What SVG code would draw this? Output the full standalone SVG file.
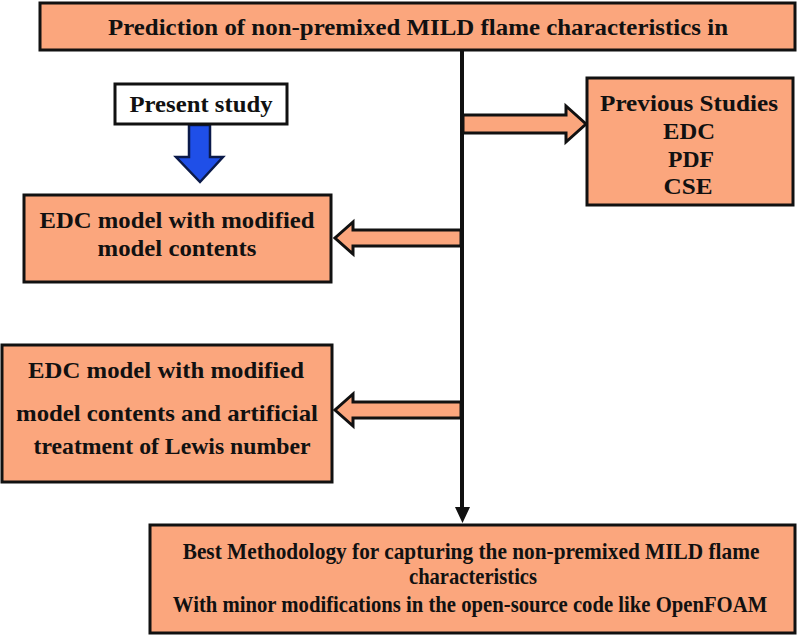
<svg xmlns="http://www.w3.org/2000/svg" width="798" height="640" viewBox="0 0 798 640">
<style>
.box{fill:#FBA67D;stroke:#111;stroke-width:3}
.wbox{fill:#fff;stroke:#111;stroke-width:3}
.t{font-family:'Liberation Serif','Times New Roman','DejaVu Serif',serif;font-weight:700;fill:#111;text-anchor:middle;font-size:23px}
.arr{fill:#FBA67D;stroke:#111;stroke-width:3;stroke-linejoin:miter}
</style>
<g id="connectors">
<line x1="462" y1="50" x2="462" y2="508" stroke="#111" stroke-width="4"/>
<path d="M455,507 L470,507 L462.5,523 z" fill="#111"/>
<path class="arr" d="M463,115 L566,115 L566,106 L586,124 L566,142 L566,133 L463,133 z"/>
<path class="arr" d="M461,230 L353,230 L353,222 L335,238 L353,254 L353,246 L461,246 z"/>
<path class="arr" d="M461,402 L353,402 L353,394 L335,410 L353,426 L353,418 L461,418 z"/>
<path d="M189,125 L210,125 L210,157 L223,157 L200,182 L176,157 L189,157 z" fill="#1F4FE8" stroke="#0b1a4a" stroke-width="2.5"/>
</g>
<g id="title">
<rect class="box" x="40" y="3" width="755" height="47"/>
<text class="t" x="418" y="35" textLength="620" lengthAdjust="spacingAndGlyphs">Prediction of non-premixed MILD flame characteristics in</text>
</g>
<g id="present">
<rect class="wbox" x="115" y="84" width="172" height="40"/>
<text class="t" x="201" y="112" textLength="143" lengthAdjust="spacingAndGlyphs">Present study</text>
</g>
<g id="previous">
<rect class="box" x="587" y="78" width="206" height="127"/>
<text class="t" x="689" y="111" textLength="178" lengthAdjust="spacingAndGlyphs">Previous Studies</text>
<text class="t" x="689" y="139" textLength="52" lengthAdjust="spacingAndGlyphs">EDC</text>
<text class="t" x="691" y="167" textLength="46" lengthAdjust="spacingAndGlyphs">PDF</text>
<text class="t" x="688" y="194" textLength="49" lengthAdjust="spacingAndGlyphs">CSE</text>
</g>
<g id="edc1">
<rect class="box" x="24" y="195" width="307" height="87"/>
<text class="t" x="177" y="228" textLength="275" lengthAdjust="spacingAndGlyphs">EDC model with modified</text>
<text class="t" x="177" y="256" textLength="159" lengthAdjust="spacingAndGlyphs">model contents</text>
</g>
<g id="edc2">
<rect class="box" x="2" y="345" width="330" height="137"/>
<text class="t" x="166" y="378" textLength="276" lengthAdjust="spacingAndGlyphs">EDC model with modified</text>
<text class="t" x="167" y="421" textLength="302" lengthAdjust="spacingAndGlyphs">model contents and artificial</text>
<text class="t" x="172" y="454" textLength="277" lengthAdjust="spacingAndGlyphs">treatment of Lewis number</text>
</g>
<g id="best">
<rect class="box" x="150" y="525" width="645" height="108"/>
<text class="t" transform="translate(471,559) scale(0.72,1)" x="0" y="0" textLength="801" lengthAdjust="spacingAndGlyphs">Best Methodology for capturing the non-premixed MILD flame</text>
<text class="t" x="473" y="584" textLength="128" lengthAdjust="spacingAndGlyphs">characteristics</text>
<text class="t" transform="translate(470,612) scale(0.7,1)" x="0" y="0" textLength="849" lengthAdjust="spacingAndGlyphs">With minor modifications in the open-source code like OpenFOAM</text>
</g>
</svg>
